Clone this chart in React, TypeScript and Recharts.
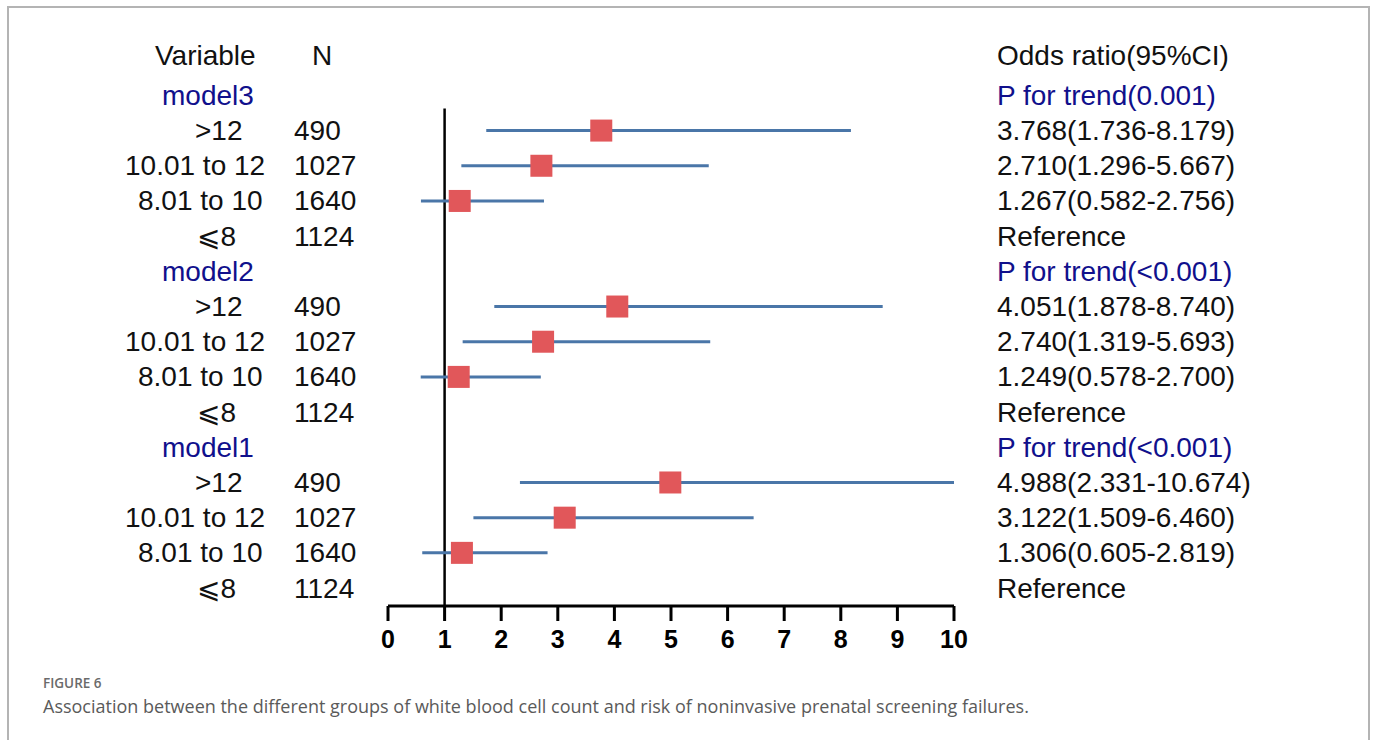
import { ScatterChart, Scatter, XAxis, YAxis, ReferenceLine } from 'recharts'

const models = ['model3', 'model2', 'model1']
const trendLabels = ['P for trend(0.001)', 'P for trend(<0.001)', 'P for trend(<0.001)']
const levels = ['>12', '10.01 to 12', '8.01 to 10', '⩽8']
const counts = [490, 1027, 1640, 1124]

const orModel3 = [3.768, 2.71, 1.267]
const lowModel3 = [1.736, 1.296, 0.582]
const highModel3 = [8.179, 5.667, 2.756]

const orModel2 = [4.051, 2.74, 1.249]
const lowModel2 = [1.878, 1.319, 0.578]
const highModel2 = [8.74, 5.693, 2.7]

const orModel1 = [4.988, 3.122, 1.306]
const lowModel1 = [2.331, 1.509, 0.605]
const highModel1 = [10.674, 6.46, 2.819]

const xTicks = [0, 1, 2, 3, 4, 5, 6, 7, 8, 9, 10]

// layout only: where each text column starts
const levelX: Record<string, number> = { '>12': 195, '10.01 to 12': 125, '8.01 to 10': 138, '⩽8': 197 }
const NX = 294
const RIGHTX = 997
const HEADER_ROW = -1.14

const TEXT = '#111'
const NAVY = '#10108c'
const FONT = '"Liberation Sans", Arial, "DejaVu Sans", sans-serif'
const FS = 28

const orSets = [orModel3, orModel2, orModel1]
const lowSets = [lowModel3, lowModel2, lowModel1]
const highSets = [highModel3, highModel2, highModel1]

type Row = { row: number; kind: 'model' | 'level'; model: number; level?: number }

const rows: Row[] = []
const points: { or: number; low: number; high: number; row: number }[] = []
models.forEach((_, m) => {
  const base = m * 5
  rows.push({ row: base, kind: 'model', model: m })
  levels.forEach((_, l) => {
    rows.push({ row: base + 1 + l, kind: 'level', model: m, level: l })
    if (l < 3) {
      points.push({ or: orSets[m][l], low: lowSets[m][l], high: highSets[m][l], row: base + 1 + l })
    }
  })
})

const fmt = (v: number) => v.toFixed(3)

function RowTick(props: any) {
  const { y, payload } = props
  const v = payload.value
  if (v === HEADER_ROW) {
    return (
      <g fontFamily={FONT} fontSize={FS} fill={TEXT}>
        <text x={155} y={y} dominantBaseline="central">Variable</text>
        <text x={312} y={y} dominantBaseline="central">N</text>
        <text x={RIGHTX} y={y} dominantBaseline="central">Odds ratio(95%CI)</text>
      </g>
    )
  }
  const r = rows.find((d) => d.row === v)
  if (!r) return null
  if (r.kind === 'model') {
    return (
      <g fontFamily={FONT} fontSize={FS} fill={NAVY}>
        <text x={162} y={y} dominantBaseline="central">{models[r.model]}</text>
        <text x={RIGHTX} y={y} dominantBaseline="central">{trendLabels[r.model]}</text>
      </g>
    )
  }
  const l = r.level as number
  const right =
    l < 3
      ? `${fmt(orSets[r.model][l])}(${fmt(lowSets[r.model][l])}-${fmt(highSets[r.model][l])})`
      : 'Reference'
  return (
    <g fontFamily={FONT} fontSize={FS} fill={TEXT}>
      <text x={levelX[levels[l]]} y={y} dominantBaseline="central">{levels[l]}</text>
      <text x={NX} y={y} dominantBaseline="central">{counts[l]}</text>
      <text x={RIGHTX} y={y} dominantBaseline="central">{right}</text>
    </g>
  )
}

const Square = (props: any) => {
  const { cx, cy } = props
  return <rect x={cx - 11} y={cy - 11} width={22} height={22} fill="#e1575a" />
}

export default function App() {
  return (
    <div style={{ position: 'absolute', left: 0, top: 0, width: 1375, height: 740, background: '#fff', overflow: 'hidden' }}>
      <div style={{ position: 'absolute', left: 0, top: 0 }}>
        <ScatterChart width={1375} height={666} margin={{ top: 25, right: 421, bottom: 0, left: 0 }}>
          <XAxis
            type="number"
            dataKey="or"
            domain={[0, 10]}
            ticks={xTicks}
            allowDataOverflow
            interval={0}
            height={60}
            tickSize={15}
            tickMargin={9}
            axisLine={{ stroke: '#000', strokeWidth: 3 }}
            tickLine={{ stroke: '#000', strokeWidth: 3 }}
            tick={{ fill: '#000', fontSize: 25, fontWeight: 700, fontFamily: FONT }}
          />
          <YAxis
            type="number"
            dataKey="row"
            reversed
            domain={[-2, 14.51]}
            allowDataOverflow
            ticks={[HEADER_ROW, ...rows.map((r) => r.row)]}
            interval={0}
            width={388}
            axisLine={false}
            tickLine={false}
            tick={<RowTick />}
          />
          <ReferenceLine
            segment={[{ x: 1, y: 0.37 }, { x: 1, y: 14.51 }]}
            stroke="#000"
            strokeWidth={2.5}
          />
          {points.map((p, i) => (
            <ReferenceLine
              key={i}
              segment={[{ x: p.low, y: p.row }, { x: p.high, y: p.row }]}
              ifOverflow="hidden"
              stroke="#4a76a8"
              strokeWidth={3}
            />
          ))}
          <Scatter data={points} shape={<Square />} isAnimationActive={false} />
        </ScatterChart>
      </div>
      <div
        style={{
          position: 'absolute',
          left: 43,
          top: 674,
          fontFamily: '"Open Sans", "Noto Sans", sans-serif',
          fontSize: 13.5,
          fontWeight: 600,
          color: '#6a6a6a',
        }}
      >
        FIGURE 6
      </div>
      <div
        style={{
          position: 'absolute',
          left: 43,
          top: 694,
          fontFamily: '"Open Sans", "Noto Sans", sans-serif',
          fontSize: 18,
          color: '#5a5a5a',
        }}
      >
        Association between the different groups of white blood cell count and risk of noninvasive prenatal screening failures.
      </div>
      <div
        style={{
          position: 'absolute',
          left: 7,
          top: 6,
          width: 1363,
          height: 760,
          borderTop: '2px solid #b4b4b4',
          borderLeft: '2px solid #b4b4b4',
          borderRight: '2px solid #b4b4b4',
          boxSizing: 'border-box',
          pointerEvents: 'none',
          zIndex: 2,
        }}
      />
    </div>
  )
}
